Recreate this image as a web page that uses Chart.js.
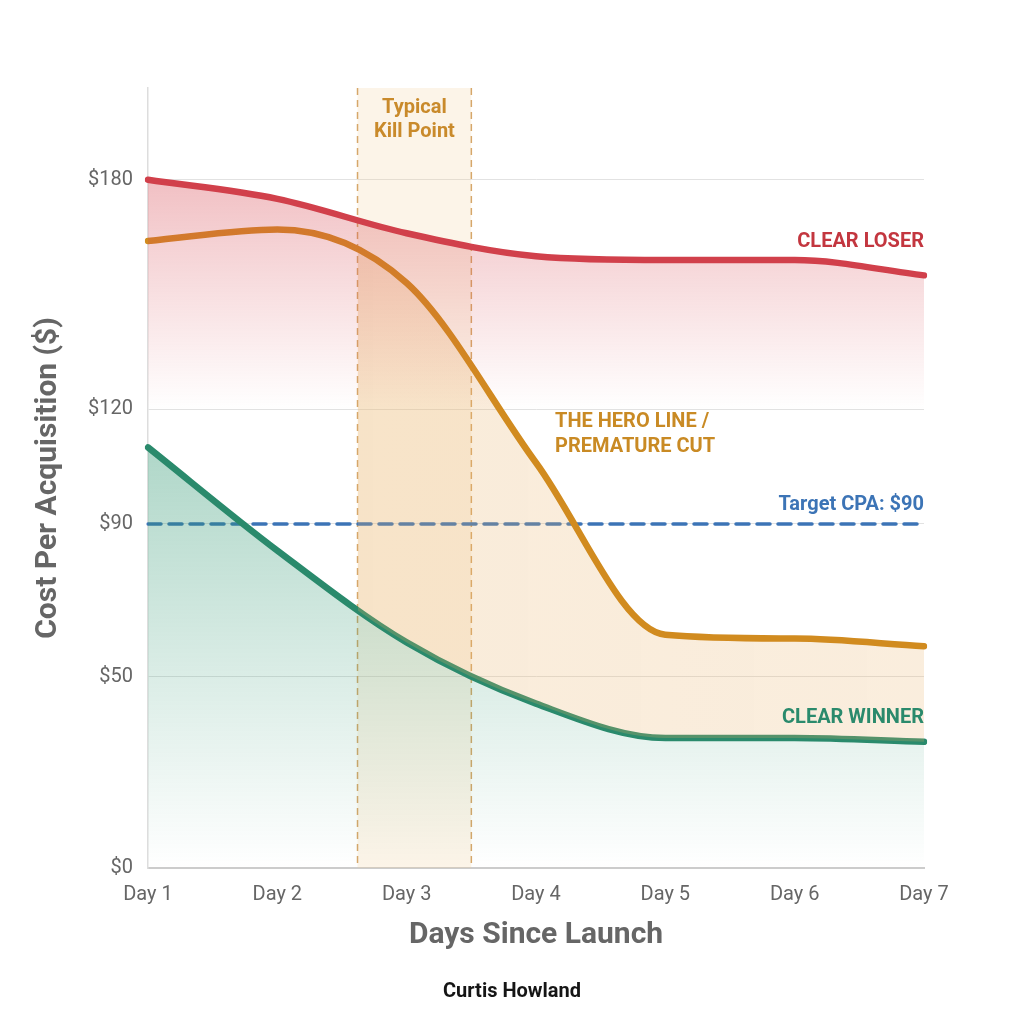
<!DOCTYPE html>
<html>
<head>
<meta charset="utf-8">
<script src="https://cdn.jsdelivr.net/npm/chart.js@4.4.1/dist/chart.umd.min.js"></script>
<style>
  html, body { margin: 0; padding: 0; background: #fff; }
</style>
</head>
<body>
<canvas id="myChart" width="1024" height="1024"></canvas>
<script>
// data
const days = ["Day 1", "Day 2", "Day 3", "Day 4", "Day 5", "Day 6", "Day 7"];
const clearLoser = [180, 175, 166, 160, 159, 159, 155];
const heroLine = [164, 167, 153, 106, 61, 60, 58];
const clearWinner = [110, 83, 59, 43, 34, 34, 33];
const targetCpa = [90, 90, 90, 90, 90, 90, 90];
const yTicks = [0, 50, 90, 120, 180];
const killZone = [1.62, 2.5]; // from/to, in day index units

Chart.defaults.font.family = "Roboto";

const killZonePlugin = {
  id: "killZone",
  beforeDatasetsDraw(chart) {
    const { ctx, chartArea, scales } = chart;
    const x1 = scales.x.getPixelForValue(killZone[0]);
    const x2 = scales.x.getPixelForValue(killZone[1]);
    ctx.save();
    ctx.fillStyle = "rgba(240, 205, 150, 0.22)";
    ctx.fillRect(x1, chartArea.top, x2 - x1, chartArea.bottom - chartArea.top);
    ctx.strokeStyle = "#d6a76a";
    ctx.lineWidth = 1.5;
    ctx.setLineDash([7, 5]);
    [x1, x2].forEach((px) => {
      ctx.beginPath();
      ctx.moveTo(px, chartArea.top);
      ctx.lineTo(px, chartArea.bottom);
      ctx.stroke();
    });
    ctx.restore();
  },
  afterDatasetsDraw(chart) {
    const { ctx, chartArea, scales } = chart;
    const x = scales.x, y = scales.y;
    const xm = (x.getPixelForValue(killZone[0]) + x.getPixelForValue(killZone[1])) / 2;
    ctx.save();
    ctx.font = "bold 20px Roboto";
    ctx.textBaseline = "middle";

    ctx.textAlign = "center";
    ctx.fillStyle = "#c98a2b";
    ctx.fillText("Typical", xm, chartArea.top + 20);
    ctx.fillText("Kill Point", xm, chartArea.top + 44);

    ctx.textAlign = "right";
    ctx.fillStyle = "#c3363f";
    ctx.fillText("CLEAR LOSER", chartArea.right, y.getPixelForValue(clearLoser[6]) - 33);
    ctx.fillStyle = "#3c74b6";
    ctx.fillText("Target CPA: $90", chartArea.right, y.getPixelForValue(targetCpa[6]) - 19);
    ctx.fillStyle = "#2a8a6c";
    ctx.fillText("CLEAR WINNER", chartArea.right, y.getPixelForValue(clearWinner[6]) - 24);

    ctx.textAlign = "left";
    ctx.fillStyle = "#c98a24";
    const hx = x.getPixelForValue(3) + 19;
    ctx.fillText("THE HERO LINE /", hx, y.getPixelForValue(90) - 102);
    ctx.fillText("PREMATURE CUT", hx, y.getPixelForValue(90) - 77);
    ctx.restore();
  },
  afterDraw(chart) {
    const { ctx } = chart;
    ctx.save();
    ctx.font = "bold 20px Roboto";
    ctx.fillStyle = "#151515";
    ctx.textAlign = "center";
    ctx.textBaseline = "middle";
    ctx.fillText("Curtis Howland", chart.width / 2, 992);
    ctx.restore();
  },
};

function redFill(context) {
  const { chart } = context;
  const { ctx, chartArea, scales } = chart;
  if (!chartArea) return "rgba(214,70,80,0.2)";
  const g = ctx.createLinearGradient(0, scales.y.getPixelForValue(180), 0, scales.y.getPixelForValue(120));
  g.addColorStop(0, "rgba(214, 70, 80, 0.34)");
  g.addColorStop(1, "rgba(214, 70, 80, 0.0)");
  return g;
}

function heroFill(context) {
  const { chart } = context;
  const { ctx, chartArea, scales } = chart;
  if (!chartArea) return "rgba(232,170,90,0.24)";
  const f = (scales.x.getPixelForValue(killZone[0]) - chartArea.left) / (chartArea.right - chartArea.left);
  const g = ctx.createLinearGradient(chartArea.left, 0, chartArea.right, 0);
  g.addColorStop(0, "rgba(232, 170, 90, 0)");
  g.addColorStop(f, "rgba(232, 170, 90, 0)");
  g.addColorStop(Math.min(1, f + 0.001), "rgba(232, 175, 100, 0.24)");
  g.addColorStop(1, "rgba(232, 175, 100, 0.22)");
  return g;
}

function greenFill(context) {
  const { chart } = context;
  const { ctx, chartArea, scales } = chart;
  if (!chartArea) return "rgba(46,139,106,0.2)";
  const g = ctx.createLinearGradient(0, scales.y.getPixelForValue(110), 0, scales.y.getPixelForValue(0));
  g.addColorStop(0, "rgba(46, 150, 112, 0.38)");
  g.addColorStop(1, "rgba(46, 150, 112, 0.0)");
  return g;
}

const chartCtx = document.getElementById("myChart").getContext("2d");
const myChart = new Chart(chartCtx, {
  type: "line",
  data: {
    labels: days,
    datasets: [
      {
        label: "Clear Loser",
        data: clearLoser,
        borderColor: "#d1404b",
        backgroundColor: redFill,
        fill: { value: 120 },
        borderWidth: 6.5,
      },
      {
        label: "Hero Line",
        data: heroLine,
        borderColor: "#d18b1f",
        backgroundColor: heroFill,
        fill: "+1",
        borderWidth: 6.5,
      },
      {
        label: "Clear Winner",
        data: clearWinner,
        borderColor: "#2a8a6c",
        backgroundColor: greenFill,
        fill: "origin",
        borderWidth: 6.5,
      },
      {
        label: "Target CPA",
        data: targetCpa,
        borderColor: "#3c74b6",
        borderDash: [13, 8],
        borderWidth: 3.5,
        fill: false,
        tension: 0,
      },
    ],
  },
  options: {
    responsive: false,
    devicePixelRatio: 1,
    animation: false,
    layout: { padding: { top: 88, right: 100, left: 0, bottom: 50 } },
    elements: {
      point: { radius: 0, hoverRadius: 0 },
      line: { cubicInterpolationMode: "monotone", borderCapStyle: "round" },
    },
    plugins: {
      legend: { display: false },
      tooltip: { enabled: false },
    },
    scales: {
      x: {
        grid: { display: false },
        border: { display: true, color: "#cccccc", width: 2 },
        ticks: { color: "#666", font: { size: 20 }, padding: 7, maxRotation: 0 },
        title: {
          display: true,
          text: "Days Since Launch",
          color: "#666",
          font: { size: 30, weight: "bold" },
          padding: { top: 0, bottom: 21 },
        },
        afterFit(scale) { scale.height = 106; },
      },
      y: {
        min: 0,
        max: 204,
        afterBuildTicks(scale) { scale.ticks = yTicks.map((v) => ({ value: v })); },
        grid: { color: "#e2e2e2", lineWidth: 1, drawTicks: false },
        border: { display: true, color: "#dddddd", width: 1.5 },
        ticks: {
          color: "#666",
          font: { size: 20 },
          padding: 15,
          callback: (v) => "$" + v,
        },
        title: {
          display: true,
          text: "Cost Per Acquisition ($)",
          color: "#666",
          font: { size: 30, weight: "bold" },
          padding: { top: 30, bottom: 0 },
        },
        afterFit(scale) { scale.width = 148; },
      },
    },
  },
  plugins: [killZonePlugin],
});
</script>
</body>
</html>
